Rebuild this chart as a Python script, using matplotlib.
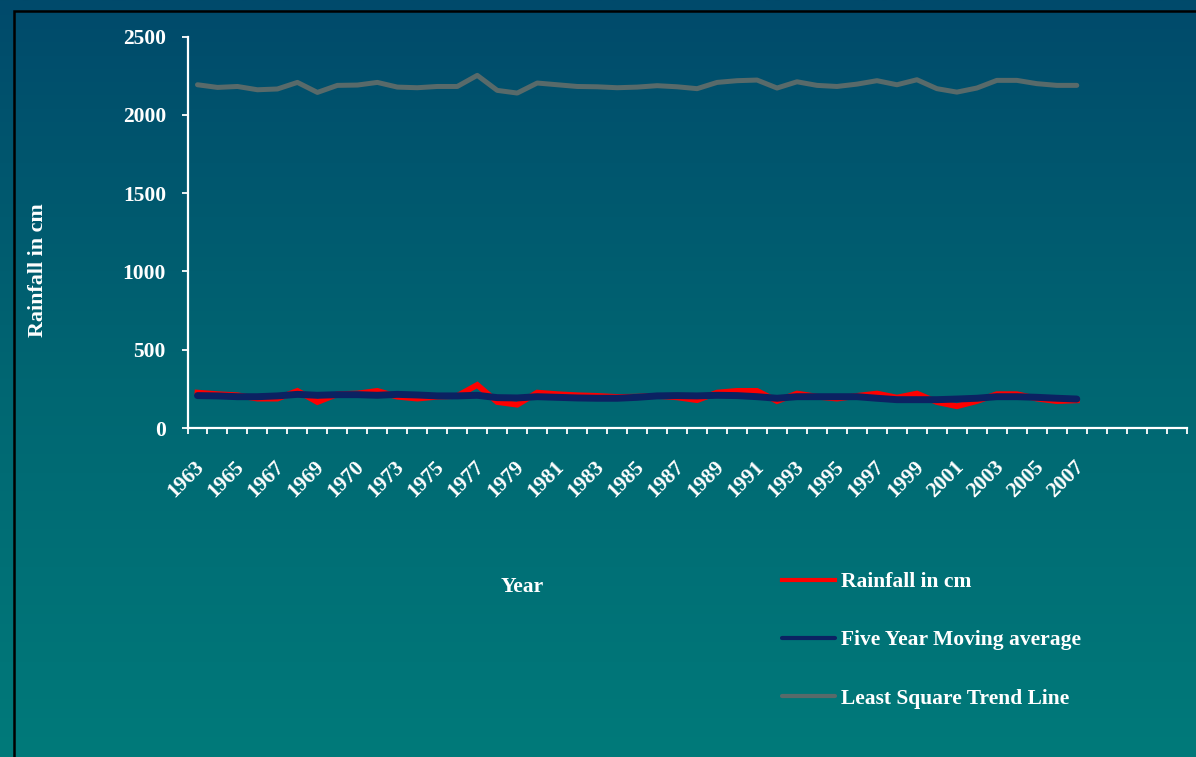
import numpy as np
import matplotlib
matplotlib.use("Agg")
import matplotlib.pyplot as plt
from matplotlib.colors import LinearSegmentedColormap
from matplotlib.patches import Rectangle
from matplotlib.transforms import ScaledTranslation

# ---------------- data ----------------
n_years = 45          # 1963 .. 2007
n_slots = 50          # category axis has 5 extra empty slots
tick_labels = ["1963", "1965", "1967", "1969", "1970", "1973", "1975", "1977",
               "1979", "1981", "1983", "1985", "1987", "1989", "1991", "1993",
               "1995", "1997", "1999", "2001", "2003", "2005", "2007"]

rainfall = [226, 216, 209, 188, 188, 237, 166, 216, 220, 237, 200, 188, 200, 205,
            275, 166, 149, 226, 216, 209, 205, 198, 200, 205, 196, 178, 226, 237,
            237, 172, 220, 200, 188, 205, 220, 194, 220, 166, 139, 172, 216, 216,
            188, 172, 177]
moving_avg = [207, 205, 200, 200, 205, 215, 209, 213, 213, 209, 215, 211, 205, 205,
              209, 194, 192, 200, 196, 192, 190, 190, 196, 205, 207, 205, 209, 207,
              200, 190, 200, 200, 200, 200, 190, 181, 181, 181, 185, 190, 200, 200,
              196, 190, 185]
trend = [2193, 2176, 2182, 2161, 2166, 2208, 2144, 2189, 2191, 2208, 2178, 2174,
         2182, 2182, 2253, 2157, 2140, 2204, 2193, 2182, 2180, 2174, 2178, 2187,
         2180, 2168, 2208, 2219, 2223, 2172, 2212, 2189, 2182, 2197, 2219, 2193,
         2225, 2168, 2146, 2172, 2221, 2221, 2200, 2189, 2189]

series_names = ["Rainfall in cm", "Five Year Moving average", "Least Square Trend Line"]
y_ticks = [0, 500, 1000, 1500, 2000, 2500]

# ---------------- figure ----------------
W, H = 1196, 757
fig = plt.figure(figsize=(W / 100, H / 100), dpi=100)

# gradient background
bg = fig.add_axes([0, 0, 1, 1], zorder=-10)
cmap = LinearSegmentedColormap.from_list("bg", ["#004a6b", "#006672", "#007a7a"])
bg.imshow(np.linspace(0, 1, 256).reshape(-1, 1), aspect="auto", cmap=cmap,
          extent=[0, 1, 0, 1], origin="upper")
bg.set_xlim(0, 1); bg.set_ylim(0, 1)
bg.axis("off")
# black border (cut off at right/bottom)
fig.patches.append(Rectangle((13.5 / W, -0.05), 1.2, 1 - 10.5 / H + 0.05,
                             transform=fig.transFigure, fill=False,
                             edgecolor="black", linewidth=1.8, zorder=-5))

left, right = 187.5 / W, 1186.7 / W
bottom, top = 1 - 428 / H, 1 - 36.7 / H
ax = fig.add_axes([left, bottom, right - left, top - bottom])
ax.patch.set_alpha(0)

x = np.arange(n_years)
font = "Liberation Serif"
white = "white"
fs = 15.5

ax.plot(x, trend, color="#586a6a", lw=3.6, solid_joinstyle="round",
        solid_capstyle="round", label=series_names[2], zorder=2)
ax.plot(x, rainfall, color="#ff0000", lw=4.2, solid_joinstyle="miter",
        label=series_names[0], zorder=3)
ax.plot(x, moving_avg, color="#0b2262", lw=5.0, solid_joinstyle="round",
        solid_capstyle="round", label=series_names[1], zorder=4)

ax.set_xlim(-0.5, n_slots - 0.5)
ax.set_ylim(0, 2500)

for s in ["top", "right"]:
    ax.spines[s].set_visible(False)
for s in ["left", "bottom"]:
    ax.spines[s].set_color(white)
    ax.spines[s].set_linewidth(1.6)

# y axis
ax.set_yticks(y_ticks)
ax.set_yticklabels([str(v) for v in y_ticks], fontfamily=font, fontweight="bold",
                   fontsize=fs, color=white)
ax.tick_params(axis="y", direction="out", length=4.5, width=1.3, colors=white, pad=11)

# x axis: tick marks between categories, labels at every other category
ax.set_xticks(np.arange(-0.5, n_slots, 1.0))
ax.set_xticklabels([])
ax.tick_params(axis="x", which="major", direction="out", length=4, width=1.3, colors=white)
ax.set_xticks(np.arange(0, n_years, 2), minor=True)
ax.set_xticklabels(tick_labels, minor=True, rotation=45, ha="right", va="center",
                   rotation_mode="anchor", fontfamily=font, fontweight="bold",
                   fontsize=fs, color=white)
ax.tick_params(axis="x", which="minor", length=0, pad=26, colors=white)
shift = ScaledTranslation(4 / 100, 0, fig.dpi_scale_trans)
for lbl in ax.get_xticklabels(minor=True):
    lbl.set_transform(lbl.get_transform() + shift)

# axis titles
fig.text(38 / W, 1 - 270 / H, "Rainfall in cm", rotation=90, ha="center", va="center",
         fontfamily=font, fontweight="bold", fontsize=15.8, color=white)
fig.text(522 / W, 1 - 587 / H, "Year", ha="center", va="center",
         fontfamily=font, fontweight="bold", fontsize=fs, color=white)

# legend
handles, labels = ax.get_legend_handles_labels()
order = [labels.index(nm) for nm in series_names]
leg = fig.legend([handles[i] for i in order], [labels[i] for i in order],
                 loc="upper left", bbox_to_anchor=(782 / W, 1 - 572 / H),
                 frameon=False, borderpad=0, borderaxespad=0,
                 handlelength=2.47, handletextpad=0.28, labelspacing=1.78,
                 prop={"family": font, "weight": "bold", "size": fs})
for t in leg.get_texts():
    t.set_color(white)
for lh in leg.get_lines():
    lh.set_linewidth(3.0)

fig.savefig("out.png", dpi=100)
